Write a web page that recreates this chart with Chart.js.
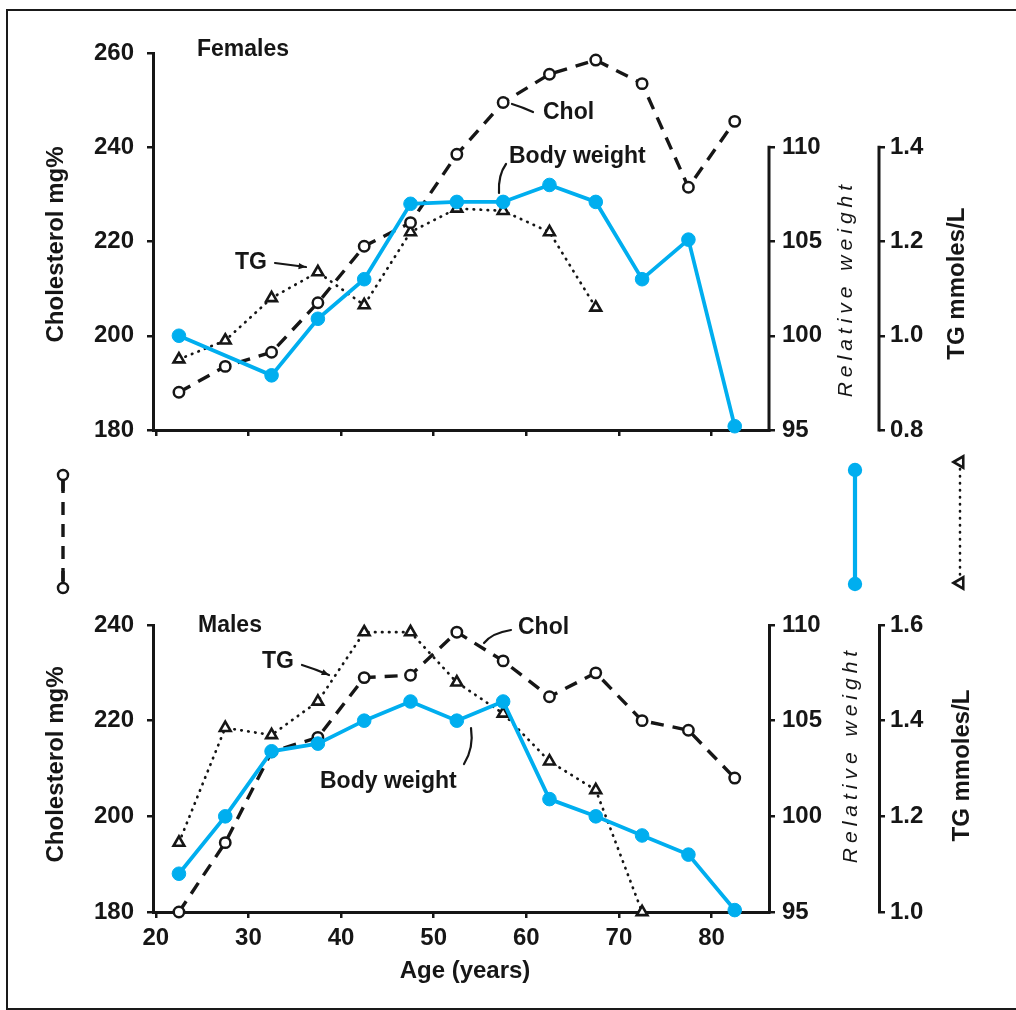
<!DOCTYPE html>
<html>
<head>
<meta charset="utf-8">
<script src="https://cdn.jsdelivr.net/npm/chart.js@4.4.1/dist/chart.umd.min.js"></script>
<style>
  html, body { margin: 0; padding: 0; background: #fff; overflow: hidden; }
  #wrap { position: relative; width: 1016px; height: 1010px; overflow: hidden; }
  canvas { position: absolute; left: 0; top: 0; }
  #frame { position: absolute; left: 6px; top: 9px; width: 1200px; height: 997px;
           border-left: 2.5px solid #1a1a1a; border-top: 2.5px solid #1a1a1a; border-bottom: 2.5px solid #1a1a1a; }
</style>
</head>
<body>
<div id="wrap">
  <div id="frame"></div>
  <canvas id="top" width="1016" height="1010"></canvas>
  <canvas id="bot" width="1016" height="1010"></canvas>
</div>
<script>
// ---------------- data ----------------
const AGES      = [22.5, 27.5, 32.5, 37.5, 42.5, 47.5, 52.5, 57.5, 62.5, 67.5, 72.5, 77.5, 82.5];
const AGE_TICKS = [20, 30, 40, 50, 60, 70, 80];

// Females
const F_CHOL   = [188, 193.5, 196.5, 207, 219, 224, 238.5, 249.5, 255.5, 258.5, 253.5, 231.5, 245.5];
const F_WEIGHT = [100, null, 97.9, 100.9, 103, 107, 107.1, 107.1, 108, 107.1, 103, 105.1, 95.2];
const F_TG     = [0.95, 0.99, 1.08, 1.135, 1.065, 1.22, 1.27, 1.265, 1.22, 1.06];
const F_CHOL_TICKS   = [180, 200, 220, 240, 260];
const F_WEIGHT_TICKS = [95, 100, 105, 110];
const F_TG_TICKS     = [0.8, 1.0, 1.2, 1.4];

// Males
const M_CHOL   = [180, 194.5, 213.5, 216.5, 229, 229.5, 238.5, 232.5, 225, 230, 220, 218, 208];
const M_WEIGHT = [97, 100, 103.4, 103.8, 105, 106, 105, 106, 100.9, 100, 99, 98, 95.1];
const M_TG     = [1.145, 1.385, 1.37, 1.44, 1.585, 1.585, 1.48, 1.415, 1.315, 1.255, 1.0];
const M_CHOL_TICKS   = [180, 200, 220, 240];
const M_WEIGHT_TICKS = [95, 100, 105, 110];
const M_TG_TICKS     = [1.0, 1.2, 1.4, 1.6];

// ---------------- styles ----------------
const INK  = '#161616';
const BLUE = '#00aeef';
const FONT = '"Liberation Sans", Arial, Helvetica, sans-serif';

function pts(vals) { return vals.map((v, i) => ({ x: AGES[i], y: v })); }

const cholStyle = {
  borderColor: INK, borderWidth: 3.4, borderDash: [13, 9], pointStyle: 'circle',
  pointRadius: 5.2, pointBorderWidth: 2.5, pointBackgroundColor: '#fff', pointBorderColor: INK,
  tension: 0, clip: false, order: 2
};
const weightStyle = {
  borderColor: BLUE, borderWidth: 3.8, pointStyle: 'circle', pointRadius: 6.8,
  pointBackgroundColor: BLUE, pointBorderColor: BLUE, pointBorderWidth: 1,
  spanGaps: true, tension: 0, clip: false, order: 1
};
const tgStyle = {
  borderColor: INK, borderWidth: 2.7, borderDash: [0.5, 6.5], borderCapStyle: 'round',
  pointStyle: 'triangle', pointRadius: 6.2, pointBorderWidth: 2.6, pointBackgroundColor: '#fff',
  pointBorderColor: INK, tension: 0, clip: false, order: 3
};

function setTicks(list) { return s => { s.ticks = list.map(v => ({ value: v })); }; }
function fixW(w) { return s => { s.width = w; }; }
function fixH(h) { return s => { s.height = h; }; }

const gridTicks = { drawOnChartArea: false, drawTicks: true, tickLength: 6, color: INK, lineWidth: 2.5 };
const tickFont = { family: FONT, size: 24, weight: 'bold' };

function makeScales(cholTicks, cholMin, cholMax, wTicks, wMax, tgTicks, tgMin, tgMax, showX, partial) {
  return {
    x: {
      type: 'linear', position: 'bottom', min: 19.7, max: 86.2,
      afterBuildTicks: setTicks(AGE_TICKS), afterFit: fixH(showX ? 98 : 20),
      grid: gridTicks, border: { display: true, color: INK, width: 3 },
      ticks: { display: showX, color: INK, font: tickFont, padding: 6, maxRotation: 0, callback: v => String(v) }
    },
    yChol: {
      type: 'linear', position: 'left', min: cholMin, max: cholMax,
      afterBuildTicks: setTicks(cholTicks), afterFit: fixW(153),
      grid: gridTicks, border: { display: true, color: INK, width: 3 },
      ticks: { color: INK, font: tickFont, padding: 13, callback: v => String(v) }
    },
    yW: {
      type: 'linear', position: 'right', weight: 1, min: 95, max: wMax,
      afterBuildTicks: setTicks(wTicks), afterFit: fixW(110),
      grid: gridTicks, border: { display: !partial, color: INK, width: 3 },
      ticks: { color: INK, font: tickFont, padding: 7, callback: v => String(v) }
    },
    yTG: {
      type: 'linear', position: 'right', weight: 2, min: tgMin, max: tgMax,
      afterBuildTicks: setTicks(tgTicks), afterFit: fixW(137),
      grid: gridTicks, border: { display: !partial, color: INK, width: 3 },
      ticks: { color: INK, font: tickFont, padding: 5, callback: v => Number(v).toFixed(1) }
    }
  };
}

// ---------------- decoration plugin ----------------
function drawTri(ctx, x, y, r, rot) {
  Chart.helpers.drawPoint(ctx, { pointStyle: 'triangle', radius: r, rotation: rot, borderWidth: 2.8 }, x, y);
}

const decor = {
  id: 'decor',
  afterDraw(chart, args, o) {
    const ctx = chart.ctx;
    ctx.save();
    ctx.strokeStyle = INK; ctx.fillStyle = INK;
    // partial right-axis lines
    (o.partial || []).forEach(p => {
      const s = chart.scales[p.id];
      ctx.beginPath(); ctx.lineWidth = 3; ctx.setLineDash([]);
      ctx.moveTo(s.left, s.getPixelForValue(p.from) + 1.5);
      ctx.lineTo(s.left, s.getPixelForValue(p.to) - 1.5);
      ctx.stroke();
    });
    // axis titles (read bottom-to-top)
    (o.titles || []).forEach(t => {
      const s = chart.scales[t.id];
      const cy = (s.getPixelForValue(t.from) + s.getPixelForValue(t.to)) / 2 + (t.dy || 0);
      ctx.save();
      ctx.translate(t.x, cy); ctx.rotate(-Math.PI / 2);
      ctx.font = t.font; ctx.fillStyle = INK;
      ctx.textAlign = 'center'; ctx.textBaseline = 'middle';
      if ('letterSpacing' in ctx) ctx.letterSpacing = t.ls || '0px';
      ctx.fillText(t.text, 0, 0);
      ctx.restore();
    });
    if (o.xTitle) {
      const a = chart.chartArea;
      ctx.font = 'bold 24px ' + FONT; ctx.textAlign = 'center'; ctx.textBaseline = 'middle';
      ctx.fillText(o.xTitle, (a.left + a.right) / 2 + 4, o.xTitleY);
    }
    // annotation labels
    ctx.textAlign = 'left'; ctx.textBaseline = 'middle';
    (o.labels || []).forEach(l => {
      ctx.font = 'bold 23px ' + FONT;
      ctx.fillText(l.text, l.x, l.y);
    });
    // leader lines
    ctx.lineWidth = 2.2; ctx.setLineDash([]); ctx.lineCap = 'round';
    (o.leaders || []).forEach(l => {
      ctx.beginPath();
      ctx.moveTo(l.p[0], l.p[1]);
      ctx.quadraticCurveTo(l.c[0], l.c[1], l.q[0], l.q[1]);
      ctx.stroke();
      if (l.arrow) {
        const ang = Math.atan2(l.q[1] - l.c[1], l.q[0] - l.c[0]);
        ctx.beginPath();
        ctx.moveTo(l.q[0], l.q[1]);
        ctx.lineTo(l.q[0] - 8 * Math.cos(ang - 0.4), l.q[1] - 8 * Math.sin(ang - 0.4));
        ctx.lineTo(l.q[0] - 8 * Math.cos(ang + 0.4), l.q[1] - 8 * Math.sin(ang + 0.4));
        ctx.closePath(); ctx.fill();
      }
    });
    // key symbols between the panels
    if (o.key) {
      // Chol
      ctx.lineWidth = 3.4; ctx.lineCap = 'butt'; ctx.setLineDash([13, 9]);
      ctx.beginPath(); ctx.moveTo(63, 480); ctx.lineTo(63, 583); ctx.stroke();
      ctx.setLineDash([]);
      ctx.beginPath(); ctx.moveTo(63, 480); ctx.lineTo(63, 491); ctx.moveTo(63, 571); ctx.lineTo(63, 583); ctx.stroke();
      ctx.lineWidth = 2.5; ctx.fillStyle = '#fff';
      [475, 588].forEach(y => { ctx.beginPath(); ctx.arc(63, y, 5, 0, Math.PI * 2); ctx.fill(); ctx.stroke(); });
      // Body weight
      ctx.strokeStyle = BLUE; ctx.fillStyle = BLUE; ctx.lineWidth = 4.2;
      ctx.beginPath(); ctx.moveTo(855, 470); ctx.lineTo(855, 584); ctx.stroke();
      [470, 584].forEach(y => { ctx.beginPath(); ctx.arc(855, y, 7.2, 0, Math.PI * 2); ctx.fill(); });
      // TG
      ctx.strokeStyle = INK; ctx.lineWidth = 2.6; ctx.lineCap = 'round'; ctx.setLineDash([0.5, 6.5]);
      ctx.beginPath(); ctx.moveTo(960, 469); ctx.lineTo(960, 577); ctx.stroke();
      ctx.setLineDash([]); ctx.fillStyle = '#fff';
      [462, 583].forEach(y => drawTri(ctx, 960, y, 6.5, 270));
    }
    ctx.restore();
  }
};

Chart.defaults.font.family = FONT;
Chart.defaults.color = INK;

const common = {
  responsive: false, animation: false, devicePixelRatio: 1,
  plugins: { legend: { display: false }, tooltip: { enabled: false } }
};

// ---------------- Females (top) ----------------
new Chart(document.getElementById('top'), {
  type: 'line',
  data: {
    datasets: [
      Object.assign({ label: 'Body weight', yAxisID: 'yW', data: pts(F_WEIGHT) }, weightStyle),
      Object.assign({ label: 'Chol', yAxisID: 'yChol', data: pts(F_CHOL) }, cholStyle),
      Object.assign({ label: 'TG', yAxisID: 'yTG', data: pts(F_TG) }, tgStyle)
    ]
  },
  options: Object.assign({}, common, {
    layout: { padding: { left: 0, right: 0, top: 53, bottom: 560 } },
    scales: makeScales(F_CHOL_TICKS, 180, 260, F_WEIGHT_TICKS, 115, F_TG_TICKS, 0.8, 1.6, false, true),
    plugins: Object.assign({}, common.plugins, {
      decor: {
        partial: [{ id: 'yW', from: 95, to: 110 }, { id: 'yTG', from: 0.8, to: 1.4 }],
        titles: [
          { id: 'yChol', from: 180, to: 260, x: 56, font: 'bold 24px ' + FONT, text: 'Cholesterol mg%', dy: 3 },
          { id: 'yW', from: 95, to: 110, x: 846, font: 'italic 21px ' + FONT, text: 'Relative weight', ls: '5px' },
          { id: 'yTG', from: 0.8, to: 1.4, x: 957, font: 'bold 24px ' + FONT, text: 'TG mmoles/L', dy: -5 }
        ],
        labels: [
          { text: 'Females', x: 197, y: 50 },
          { text: 'TG', x: 235, y: 263 },
          { text: 'Chol', x: 543, y: 113 },
          { text: 'Body weight', x: 509, y: 157 }
        ],
        leaders: [
          { p: [275, 263], c: [290, 265], q: [306, 267], arrow: true },
          { p: [533, 112], c: [522, 107], q: [512, 104] },
          { p: [506, 164], c: [498, 175], q: [499, 193] }
        ],
        key: true
      }
    })
  }),
  plugins: [decor]
});

// ---------------- Males (bottom) ----------------
new Chart(document.getElementById('bot'), {
  type: 'line',
  data: {
    datasets: [
      Object.assign({ label: 'Body weight', yAxisID: 'yW', data: pts(M_WEIGHT) }, weightStyle),
      Object.assign({ label: 'Chol', yAxisID: 'yChol', data: pts(M_CHOL) }, cholStyle),
      Object.assign({ label: 'TG', yAxisID: 'yTG', data: pts(M_TG) }, tgStyle)
    ]
  },
  options: Object.assign({}, common, {
    layout: { padding: { left: 0, right: 0, top: 625, bottom: 0 } },
    scales: makeScales(M_CHOL_TICKS, 180, 240, M_WEIGHT_TICKS, 110, M_TG_TICKS, 1.0, 1.6, true, false),
    plugins: Object.assign({}, common.plugins, {
      decor: {
        titles: [
          { id: 'yChol', from: 180, to: 240, x: 56, font: 'bold 24px ' + FONT, text: 'Cholesterol mg%', dy: -4 },
          { id: 'yW', from: 95, to: 110, x: 851, font: 'italic 21px ' + FONT, text: 'Relative weight', ls: '5px', dy: -14 },
          { id: 'yTG', from: 1.0, to: 1.6, x: 962, font: 'bold 24px ' + FONT, text: 'TG mmoles/L', dy: -3 }
        ],
        xTitle: 'Age (years)', xTitleY: 971,
        labels: [
          { text: 'Males', x: 198, y: 626 },
          { text: 'TG', x: 262, y: 662 },
          { text: 'Chol', x: 518, y: 628 },
          { text: 'Body weight', x: 320, y: 782 }
        ],
        leaders: [
          { p: [302, 665], c: [315, 669], q: [329, 675], arrow: true },
          { p: [511, 630], c: [492, 633], q: [484, 643] },
          { p: [464, 764], c: [474, 748], q: [471, 728] }
        ]
      }
    })
  }),
  plugins: [decor]
});
</script>
</body>
</html>
